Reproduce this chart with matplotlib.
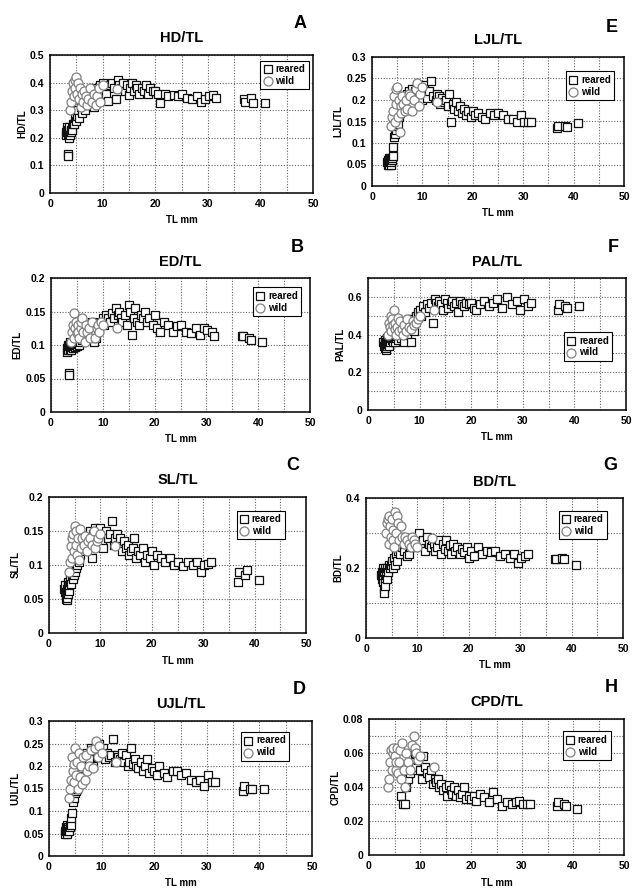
import matplotlib
matplotlib.use("Agg")
import matplotlib.pyplot as plt
from matplotlib.ticker import MultipleLocator, FuncFormatter

plt.rcParams["font.family"] = ["Liberation Sans", "DejaVu Sans"]
plt.rcParams["font.weight"] = "bold"

# total length of reared fish (mm), shared by all ratios
reared_tl = [
    3.0, 3.1, 3.2, 3.3, 3.3, 3.4, 3.5, 3.5, 3.5, 3.6, 3.7, 3.7, 3.8, 3.9, 4.0, 4.1, 4.2, 4.4,
    4.6, 4.8, 5.0, 5.2, 5.4, 5.6, 5.8, 6.0, 6.3, 6.6, 7.0, 7.3, 7.6, 8.0,
    8.3, 8.6, 9.0, 9.3, 9.6, 10.0, 10.3, 10.6, 11.0, 11.4, 11.8, 12.2, 12.6, 12.9,
    13.2, 13.5, 13.8, 14.2, 14.6, 15.0, 15.3, 15.6, 16.0, 16.3, 16.6, 17.0, 17.4, 17.8, 18.2, 18.6, 19.0, 19.6,
    20.0, 20.5, 21.0, 21.8, 22.5, 23.5, 24.3, 25.0, 26.0, 27.0, 28.0, 28.8, 29.5, 30.2, 31.0, 31.5,
    36.8, 37.0, 38.2, 38.6, 40.8,
]
# total length of wild fish (mm)
wild_tl = [3.8, 4.0, 4.2, 4.4, 4.5, 4.7, 4.8, 5.0, 5.2, 5.3, 5.5, 5.7, 5.8, 6.0,
           6.2, 6.5, 6.8, 7.0, 7.3, 7.6, 8.0, 8.4, 8.8, 9.0, 9.3, 9.6, 10.0, 12.8]

NA = float("nan")

hd_reared = [
    0.22, 0.21, 0.23, 0.22, 0.24, 0.21, 0.14, 0.135, 0.23, 0.22, 0.20, 0.24, 0.21, 0.23, 0.22, 0.24, 0.23, 0.25,
    0.25, 0.27, 0.26, 0.28, 0.30, 0.27, 0.31, 0.29, 0.32, 0.30, 0.33, 0.34, 0.32, 0.35,
    0.31, 0.36, 0.38, 0.37, 0.39, 0.40, 0.38, 0.36, 0.335, 0.39, 0.40, 0.38, 0.34, 0.41,
    0.39, 0.38, 0.40, 0.37, 0.39, 0.355, 0.38, 0.40, 0.37, 0.39, 0.38, 0.36, 0.38, 0.37, 0.39, 0.36, 0.38, 0.37,
    0.37, 0.36, 0.325, 0.36, 0.35, 0.355, 0.35, 0.36, 0.345, 0.34, 0.35, 0.33, 0.34, 0.35, 0.355, 0.345,
    0.34, 0.33, 0.345, 0.325, 0.325,
]
hd_wild = [0.30, 0.33, 0.37, 0.40, 0.35, 0.41, 0.38, 0.42, 0.36, 0.40, 0.34, 0.38, 0.31, 0.36,
           0.33, 0.37, 0.35, 0.32, 0.34, 0.38, 0.33, 0.36, 0.32, 0.35, 0.38, 0.33, 0.39, 0.375]

ed_reared = [
    0.095, 0.09, 0.10, 0.097, 0.093, 0.10, 0.058, 0.055, 0.098, 0.092, 0.105, 0.095, 0.10, 0.093, 0.097, 0.10, 0.095, 0.098,
    0.097, 0.10, 0.098, 0.102, 0.10, 0.105, 0.11, 0.108, 0.115, 0.12, 0.125, 0.13, 0.128, 0.135,
    0.105, 0.11, 0.125, 0.13, 0.135, 0.14, 0.13, 0.145, 0.14, 0.135, 0.148, 0.14, 0.155, 0.145,
    0.15, 0.14, 0.135, 0.145, 0.13, 0.16, 0.15, 0.115, 0.14, 0.155, 0.135, 0.13, 0.145, 0.14, 0.15, 0.135, 0.14, 0.13,
    0.145, 0.125, 0.12, 0.135, 0.13, 0.12, 0.128, 0.13, 0.12, 0.118, 0.125, 0.115, 0.125, 0.122, 0.12, 0.113,
    0.113, 0.114, 0.11, 0.108, 0.105,
]
ed_wild = [0.105, 0.12, 0.13, 0.148, 0.11, 0.125, 0.135, 0.118, 0.13, 0.12, 0.11, 0.125, 0.135, 0.14,
           0.12, 0.105, 0.13, 0.12, 0.125, 0.11, 0.135, 0.11, 0.125, 0.13, 0.12, 0.135, 0.13, 0.125]

sl_reared = [
    0.065, 0.06, 0.07, 0.05, 0.055, 0.06, 0.048, 0.052, 0.065, 0.07, 0.058, 0.075, 0.062, 0.07, 0.075, 0.08, 0.072, 0.085,
    0.08, 0.085, 0.09, 0.095, 0.10, 0.11, 0.105, 0.115, 0.12, 0.13, 0.125, 0.14, 0.135, 0.15,
    0.11, 0.145, 0.155, 0.15, 0.14, 0.155, 0.135, 0.125, 0.15, 0.14, 0.145, 0.165, 0.13, 0.14,
    0.145, 0.13, 0.14, 0.12, 0.135, 0.125, 0.13, 0.115, 0.12, 0.125, 0.14, 0.11, 0.12, 0.115, 0.125, 0.105, 0.115, 0.11,
    0.12, 0.10, 0.115, 0.11, 0.105, 0.11, 0.10, 0.105, 0.098, 0.105, 0.10, 0.105, 0.09, 0.10, 0.102, 0.104,
    0.075, 0.09, 0.085, 0.093, 0.078,
]
sl_wild = [0.09, 0.105, 0.128, 0.11, 0.14, 0.145, 0.12, 0.158, 0.13, 0.15, 0.115, 0.14, 0.108, 0.153,
           0.125, 0.14, 0.13, 0.143, 0.12, 0.135, 0.14, 0.13, 0.15, 0.125, 0.135, 0.14, 0.145, 0.128]

ujl_reared = [
    0.055, 0.05, 0.06, 0.055, 0.065, 0.05, 0.06, 0.058, 0.07, 0.055, 0.065, 0.06, 0.055, 0.07, 0.065, 0.07, 0.085, 0.095,
    0.12, 0.13, 0.14, 0.145, 0.15, 0.17, 0.175, 0.19, 0.195, 0.21, 0.22, 0.23, 0.215, 0.24,
    0.20, 0.235, 0.245, 0.22, 0.25, 0.235, 0.24, 0.215, 0.23, 0.22, 0.225, 0.26, 0.21, 0.225,
    0.22, 0.215, 0.23, 0.21, 0.225, 0.20, 0.21, 0.24, 0.205, 0.215, 0.20, 0.195, 0.21, 0.19, 0.20, 0.215, 0.185, 0.195,
    0.19, 0.18, 0.20, 0.185, 0.175, 0.19, 0.19, 0.18, 0.185, 0.17, 0.165, 0.17, 0.155, 0.18, 0.165, 0.165,
    0.145, 0.155, 0.15, 0.15, 0.15,
]
ujl_wild = [0.13, 0.15, 0.17, 0.22, 0.19, 0.205, 0.165, 0.24, 0.18, 0.21, 0.15, 0.23, 0.175, 0.20,
            0.16, 0.22, 0.17, 0.225, 0.19, 0.20, 0.235, 0.195, 0.24, 0.255, 0.22, 0.245, 0.23, 0.21]

ljl_reared = [
    0.055, 0.05, 0.06, 0.052, 0.065, 0.05, 0.058, 0.055, 0.06, 0.065, 0.05, 0.062, 0.055, 0.06, 0.065, 0.07, 0.09, 0.115,
    0.12, 0.13, 0.14, 0.145, 0.16, 0.17, 0.19, 0.185, 0.20, 0.21, 0.215, 0.22, 0.205, 0.225,
    0.215, 0.22, 0.23, 0.21, 0.225, 0.20, 0.235, 0.215, 0.205, 0.22, 0.245, 0.21, 0.20, 0.215,
    0.21, 0.19, 0.205, 0.195, 0.20, 0.185, 0.215, 0.15, 0.19, 0.18, 0.195, 0.175, 0.185, 0.17, 0.18, 0.165, 0.175, 0.16,
    0.175, 0.165, 0.17, 0.16, 0.155, 0.17, 0.165, 0.17, 0.165, 0.155, 0.155, 0.15, 0.165, 0.15, 0.15, 0.15,
    0.135, 0.14, 0.14, 0.138, 0.147,
]
ljl_wild = [0.14, 0.16, 0.175, 0.21, 0.15, 0.225, 0.19, 0.23, 0.16, 0.20, 0.125, 0.185, 0.17, 0.21,
            0.19, 0.175, 0.20, 0.18, 0.215, 0.21, 0.175, 0.20, 0.225, 0.24, 0.185, 0.215, 0.23, 0.195]

pal_reared = [
    0.36, 0.34, 0.35, 0.33, 0.37, 0.34, 0.32, 0.36, 0.33, 0.35, 0.38, 0.34, 0.36, 0.35, 0.37, 0.34, 0.36, 0.38,
    0.37, 0.36, 0.38, 0.36, 0.38, 0.39, 0.37, 0.40, 0.38, 0.42, 0.36, 0.44, 0.40, 0.48,
    0.36, 0.48, 0.42, 0.50, 0.52, 0.53, 0.50, 0.55, 0.52, 0.56, 0.54, 0.57, 0.46, 0.59,
    0.57, 0.55, 0.58, 0.56, 0.53, 0.59, 0.57, 0.54, 0.56, 0.58, 0.55, 0.57, 0.52, 0.58, 0.56, 0.55, 0.57, 0.56,
    0.57, 0.54, 0.53, 0.56, 0.58, 0.55, 0.57, 0.59, 0.54, 0.60, 0.56, 0.58, 0.53, 0.59, 0.55, 0.57,
    0.53, 0.56, 0.55, 0.54, 0.55,
]
pal_wild = [0.40, 0.46, 0.44, 0.50, 0.42, 0.48, 0.45, 0.53, 0.43, 0.46, 0.40, 0.44, 0.49, 0.42,
            0.47, 0.43, 0.40, 0.45, 0.42, 0.48, 0.44, 0.43, 0.47, 0.45, 0.46, 0.48, 0.50, 0.53]

bd_reared = [
    0.18, 0.19, 0.17, 0.20, 0.16, 0.18, 0.14, 0.13, 0.19, 0.17, 0.15, 0.20, 0.18, 0.19, 0.17, 0.20, 0.19, 0.21,
    0.20, 0.21, 0.22, 0.20, 0.23, 0.21, 0.24, 0.22, 0.25, 0.24, 0.26, 0.25, 0.27, 0.235,
    0.24, 0.26, 0.27, 0.28, 0.26, 0.29, 0.30, 0.27, 0.28, 0.25, 0.29, 0.27, 0.26, 0.28,
    0.27, 0.25, 0.26, 0.28, 0.24, 0.27, 0.255, 0.28, 0.25, 0.265, 0.24, 0.27, 0.25, 0.26, 0.24, 0.255, 0.245, 0.26,
    0.23, 0.25, 0.235, 0.26, 0.24, 0.25, 0.245, 0.25, 0.235, 0.24, 0.23, 0.24, 0.215, 0.23, 0.235, 0.24,
    0.225, 0.225, 0.23, 0.225, 0.21,
]
bd_wild = [0.30, 0.33, 0.34, 0.35, 0.27, 0.32, 0.29, 0.34, 0.28, 0.31, 0.26, 0.36, 0.30, 0.35,
           0.33, 0.28, 0.32, 0.29, 0.27, 0.29, 0.28, 0.27, 0.26, 0.29, 0.28, 0.27, 0.26, 0.285]

# caudal peduncle not measured on the smallest reared larvae
cpd_reared = [
    NA, NA, NA, NA, NA, NA, NA, NA, NA, NA, NA, NA, NA, NA, NA, NA, NA, NA,
    NA, NA, NA, NA, NA, NA, NA, NA, 0.035, 0.03, 0.03, 0.04, 0.045, 0.048,
    0.055, 0.05, 0.06, 0.052, 0.056, 0.05, 0.045, 0.058, 0.052, 0.048, 0.046, 0.05, 0.042, 0.045,
    0.043, 0.045, 0.04, 0.042, 0.038, 0.04, 0.035, 0.041, 0.038, 0.036, 0.04, 0.035, 0.038, 0.034, 0.036, 0.04, 0.033, 0.035,
    0.033, 0.035, 0.032, 0.036, 0.034, 0.031, 0.037, 0.033, 0.029, 0.031, 0.03, 0.031, 0.032, 0.03, 0.03, 0.03,
    0.029, 0.031, 0.03, 0.029, 0.027,
]
cpd_wild = [0.04, 0.045, 0.055, 0.062, 0.05, 0.06, 0.063, 0.058, 0.05, 0.055, 0.063, 0.048, 0.055, 0.062,
            0.045, 0.066, 0.05, 0.04, 0.06, 0.055, 0.05, 0.065, 0.07, 0.063, 0.06, 0.056, 0.058, 0.052]

for arr in (hd_reared, ed_reared, sl_reared, ujl_reared, ljl_reared, pal_reared, bd_reared, cpd_reared):
    assert len(arr) == len(reared_tl), len(arr)
for arr in (hd_wild, ed_wild, sl_wild, ujl_wild, ljl_wild, pal_wild, bd_wild, cpd_wild):
    assert len(arr) == len(wild_tl), len(arr)

W, H = 643, 889
# letter, title, reared, wild, ymax, label step, grid step, legend anchor, axes rect (px: left, top, right, bottom)
panels = [
    ("A", "HD/TL", hd_reared, hd_wild, 0.5, 0.1, 0.1, (0.80, 0.96), (50, 55, 313, 193)),
    ("B", "ED/TL", ed_reared, ed_wild, 0.2, 0.05, 0.05, (0.78, 0.93), (51, 278, 310, 412)),
    ("C", "SL/TL", sl_reared, sl_wild, 0.2, 0.05, 0.05, (0.73, 0.90), (49, 497, 306, 633)),
    ("D", "UJL/TL", ujl_reared, ujl_wild, 0.3, 0.05, 0.05, (0.73, 0.92), (49, 721, 312, 856)),
    ("E", "LJL/TL", ljl_reared, ljl_wild, 0.3, 0.05, 0.05, (0.77, 0.89), (372, 57, 624, 186)),
    ("F", "PAL/TL", pal_reared, pal_wild, 0.7, 0.2, 0.1, (0.76, 0.59), (368, 278, 626, 410)),
    ("G", "BD/TL", bd_reared, bd_wild, 0.4, 0.2, 0.1, (0.75, 0.91), (366, 498, 623, 638)),
    ("H", "CPD/TL", cpd_reared, cpd_wild, 0.08, 0.02, 0.01, (0.76, 0.91), (369, 719, 624, 855)),
]

fig = plt.figure(figsize=(W / 100, H / 100), dpi=100)
fig.patch.set_facecolor("white")

for letter, title, yr, yw, ymax, ystep, gstep, leg_xy, (l, t, r, b) in panels:
    ax = fig.add_axes([l / W, 1 - b / H, (r - l) / W, (b - t) / H])
    ax.set_xlim(0, 50)
    ax.set_ylim(0, ymax)
    ax.xaxis.set_major_locator(MultipleLocator(10))
    ax.xaxis.set_minor_locator(MultipleLocator(5))
    ax.yaxis.set_major_locator(MultipleLocator(ystep))
    ax.yaxis.set_minor_locator(MultipleLocator(gstep))
    ax.yaxis.set_major_formatter(FuncFormatter(lambda v, p: f"{v:g}"))
    ax.grid(which="both", color="#666666", linestyle=(0, (1, 1.5)), linewidth=0.8)
    ax.set_axisbelow(True)
    ax.tick_params(which="both", length=0, labelsize=7.5, pad=4)
    for lab in ax.get_xticklabels() + ax.get_yticklabels():
        lab.set_fontweight("bold")
    for sp in ax.spines.values():
        sp.set_linewidth(1.1)
        sp.set_color("black")

    hr = ax.scatter(reared_tl, yr, s=36, marker="s", facecolors="white",
                    edgecolors="#111111", linewidths=0.9, label="reared", zorder=3)
    hw = ax.scatter(wild_tl, yw, s=42, marker="o", facecolors="white",
                    edgecolors="#808080", linewidths=0.9, label="wild", zorder=4)

    leg = ax.legend(handles=[hr, hw], loc="upper left", bbox_to_anchor=leg_xy,
                    frameon=True, fancybox=False, framealpha=1, edgecolor="black",
                    prop={"size": 7, "weight": "bold"}, handlelength=0.8,
                    handletextpad=0.4, borderpad=0.35, labelspacing=0.2,
                    borderaxespad=0)
    leg.get_frame().set_linewidth(0.8)
    leg.set_zorder(5)

    ax.set_title(title, fontsize=10.5, fontweight="bold", pad=9)
    ax.text(0.95, 1.23, letter, transform=ax.transAxes, fontsize=13,
            fontweight="bold", ha="center", va="center")
    ax.set_ylabel(title, fontsize=7, fontweight="bold", labelpad=2)
    ax.set_xlabel("TL mm", fontsize=7, fontweight="bold", labelpad=5)

fig.savefig("out.png", dpi=100, facecolor="white")
